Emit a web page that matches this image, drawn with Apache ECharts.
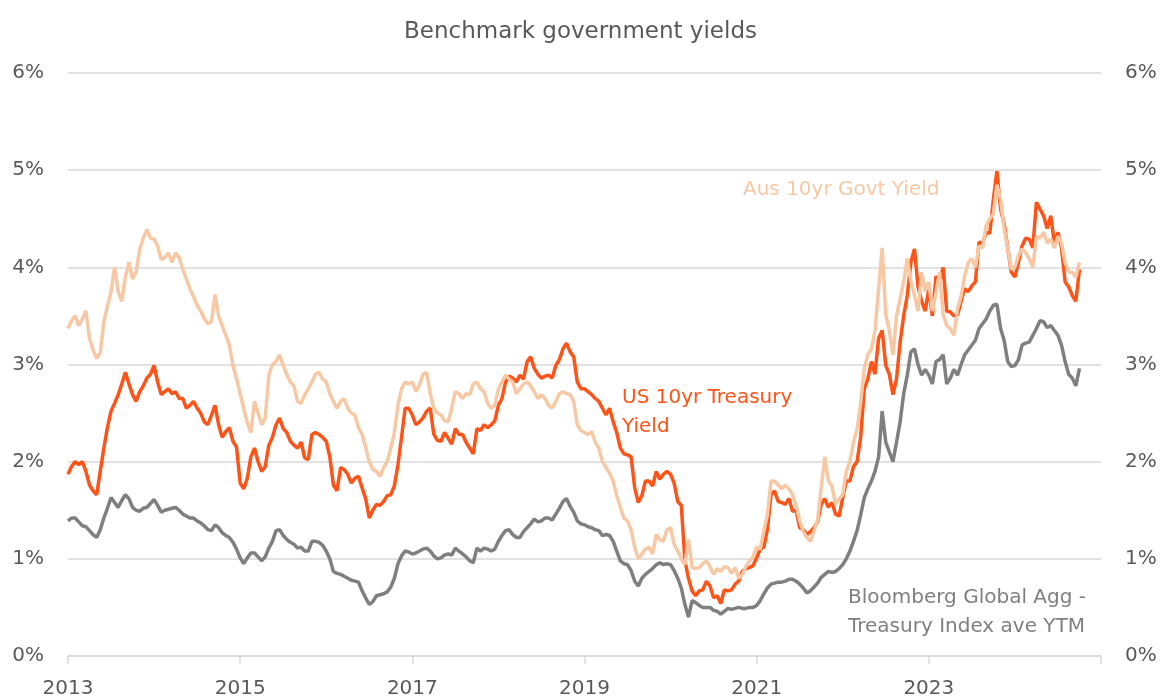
<!DOCTYPE html>
<html>
<head>
<meta charset="utf-8">
<script src="https://cdn.jsdelivr.net/npm/echarts@6/dist/echarts.min.js"></script>
<style>
html,body{margin:0;padding:0;background:#fff;}
#chart{width:1161px;height:699px;}
</style>
</head>
<body>
<div id="chart"></div>
<script>
// Observation dates: 1st and 16th of each month, Jan 2013 .. 1 Oct 2024
const dates = [];
for (let y = 2013; y <= 2024; y++) {
  for (let m = 1; m <= 12; m++) {
    const mm = String(m).padStart(2, '0');
    dates.push(y + '-' + mm + '-01');
    if (y === 2024 && m === 10) break;
    dates.push(y + '-' + mm + '-16');
  }
  if (y === 2024) break;
}
const xTicks = [2013, 2015, 2017, 2019, 2021, 2023, 2025];

// US 10yr Treasury yield (%)
const us10y = [
  1.87,1.95, 2.00,1.97, 2.00,1.90, 1.76,1.70, 1.66,1.90, 2.14,2.35, 2.52,2.60, 2.69,2.80, 2.92,2.80, 2.69,2.62, 2.72,2.78, 2.86,2.90,
  2.99,2.82, 2.69,2.72, 2.75,2.70, 2.72,2.65, 2.65,2.55, 2.58,2.62, 2.55,2.50, 2.41,2.38, 2.48,2.58, 2.38,2.25, 2.31,2.35, 2.21,2.15,
  1.78,1.72, 1.83,2.05, 2.14,2.00, 1.90,1.95, 2.17,2.25, 2.38,2.45, 2.34,2.30, 2.21,2.17, 2.14,2.20, 2.04,2.02, 2.28,2.30, 2.28,2.25,
  2.21,2.05, 1.76,1.70, 1.94,1.92, 1.87,1.78, 1.83,1.85, 1.73,1.62, 1.42,1.50, 1.56,1.55, 1.59,1.65, 1.66,1.75, 1.97,2.25, 2.55,2.55,
  2.48,2.38, 2.41,2.45, 2.52,2.55, 2.28,2.22, 2.21,2.30, 2.24,2.18, 2.34,2.28, 2.28,2.20, 2.14,2.08, 2.34,2.32, 2.38,2.35, 2.38,2.42,
  2.58,2.65, 2.82,2.88, 2.86,2.82, 2.89,2.85, 3.03,3.08, 2.96,2.90, 2.86,2.88, 2.89,2.86, 2.99,3.05, 3.16,3.22, 3.13,3.08, 2.82,2.75,
  2.75,2.72, 2.69,2.65, 2.62,2.55, 2.48,2.55, 2.41,2.30, 2.14,2.08, 2.07,2.05, 1.73,1.58, 1.65,1.80, 1.80,1.75, 1.90,1.82, 1.87,1.90,
  1.87,1.78, 1.59,1.55, 0.98,0.80, 0.67,0.62, 0.67,0.68, 0.77,0.72, 0.60,0.62, 0.54,0.68, 0.67,0.68, 0.74,0.77, 0.87,0.90, 0.91,0.93,
  1.01,1.10, 1.12,1.30, 1.66,1.70, 1.59,1.58, 1.56,1.62, 1.49,1.50, 1.32,1.30, 1.25,1.28, 1.32,1.38, 1.56,1.62, 1.53,1.58, 1.46,1.44,
  1.63,1.80, 1.80,1.95, 2.00,2.25, 2.75,2.85, 3.03,2.90, 3.27,3.35, 2.99,2.90, 2.69,2.85, 3.23,3.50, 3.71,4.05, 4.19,3.80, 3.65,3.55,
  3.78,3.50, 3.91,3.85, 4.00,3.55, 3.54,3.50, 3.51,3.65, 3.78,3.75, 3.81,3.85, 4.26,4.25, 4.36,4.35, 4.70,4.99, 4.60,4.45, 4.20,3.95,
  3.90,4.05, 4.22,4.30, 4.29,4.20, 4.67,4.60, 4.53,4.40, 4.53,4.25, 4.36,4.20, 3.85,3.80, 3.71,3.65, 3.98
];
// Aus 10yr Govt yield (%)
const aus10y = [
  3.37,3.45, 3.50,3.40, 3.47,3.55, 3.27,3.15, 3.06,3.12, 3.44,3.60, 3.75,4.00, 3.75,3.65, 3.90,4.05, 3.88,3.95, 4.19,4.30, 4.39,4.30,
  4.29,4.22, 4.08,4.10, 4.15,4.05, 4.15,4.10, 3.98,3.88, 3.78,3.70, 3.61,3.55, 3.47,3.42, 3.44,3.72, 3.50,3.40, 3.30,3.20, 2.99,2.85,
  2.70,2.55, 2.40,2.30, 2.62,2.50, 2.38,2.45, 2.89,3.00, 3.03,3.10, 2.99,2.90, 2.82,2.78, 2.62,2.60, 2.69,2.75, 2.82,2.90, 2.92,2.85,
  2.82,2.70, 2.62,2.55, 2.62,2.65, 2.55,2.50, 2.48,2.35, 2.28,2.15, 2.00,1.92, 1.90,1.85, 1.94,2.00, 2.14,2.30, 2.58,2.75, 2.82,2.80,
  2.82,2.72, 2.79,2.90, 2.92,2.70, 2.55,2.50, 2.48,2.42, 2.41,2.55, 2.72,2.70, 2.65,2.70, 2.69,2.80, 2.82,2.75, 2.72,2.60, 2.55,2.58,
  2.75,2.82, 2.89,2.85, 2.82,2.70, 2.75,2.80, 2.82,2.78, 2.72,2.65, 2.69,2.65, 2.58,2.55, 2.62,2.70, 2.72,2.70, 2.69,2.62, 2.38,2.32,
  2.30,2.28, 2.31,2.20, 2.14,2.00, 1.94,1.88, 1.80,1.65, 1.53,1.42, 1.39,1.30, 1.12,1.00, 1.05,1.10, 1.12,1.05, 1.25,1.20, 1.18,1.30,
  1.32,1.15, 1.08,1.00, 0.94,1.20, 0.91,0.90, 0.91,0.95, 0.98,0.92, 0.84,0.90, 0.87,0.92, 0.91,0.85, 0.91,0.80, 0.84,0.92, 0.98,1.02,
  1.12,1.10, 1.29,1.45, 1.80,1.80, 1.76,1.72, 1.76,1.72, 1.66,1.55, 1.39,1.28, 1.22,1.18, 1.29,1.40, 1.73,2.05, 1.80,1.75, 1.56,1.62,
  1.66,1.90, 2.00,2.20, 2.34,2.60, 2.96,3.10, 3.16,3.35, 3.78,4.20, 3.51,3.35, 3.10,3.50, 3.68,3.85, 4.09,3.85, 3.71,3.55, 3.95,3.75,
  3.85,3.55, 3.74,3.95, 3.51,3.40, 3.37,3.30, 3.57,3.70, 3.91,4.05, 4.09,4.00, 4.22,4.20, 4.43,4.50, 4.55,4.85, 4.70,4.40, 4.20,3.98,
  4.00,4.12, 4.19,4.15, 4.09,4.00, 4.32,4.30, 4.36,4.25, 4.29,4.20, 4.32,4.25, 4.05,3.95, 3.95,3.90, 4.05
];
// Bloomberg Global Agg - Treasury Index average YTM (%)
const globalAgg = [
  1.39,1.42, 1.42,1.38, 1.34,1.33, 1.29,1.25, 1.22,1.30, 1.42,1.52, 1.63,1.58, 1.53,1.60, 1.66,1.62, 1.53,1.50, 1.49,1.52, 1.53,1.57,
  1.61,1.55, 1.48,1.50, 1.51,1.52, 1.53,1.50, 1.46,1.44, 1.42,1.42, 1.39,1.37, 1.34,1.30, 1.29,1.35, 1.32,1.27, 1.24,1.22, 1.17,1.10,
  1.01,0.95, 1.01,1.06, 1.06,1.02, 0.98,1.02, 1.11,1.18, 1.29,1.30, 1.24,1.20, 1.17,1.15, 1.11,1.12, 1.08,1.08, 1.18,1.18, 1.17,1.14,
  1.08,1.00, 0.87,0.85, 0.84,0.82, 0.80,0.78, 0.77,0.76, 0.67,0.60, 0.53,0.56, 0.62,0.63, 0.64,0.66, 0.71,0.80, 0.95,1.03, 1.08,1.07,
  1.05,1.06, 1.08,1.10, 1.11,1.08, 1.03,1.00, 1.01,1.04, 1.05,1.04, 1.11,1.08, 1.05,1.02, 0.98,0.96, 1.11,1.08, 1.11,1.10, 1.08,1.10,
  1.18,1.24, 1.29,1.30, 1.25,1.22, 1.22,1.28, 1.32,1.36, 1.41,1.38, 1.39,1.42, 1.42,1.40, 1.46,1.52, 1.59,1.62, 1.54,1.48, 1.39,1.36,
  1.35,1.33, 1.32,1.30, 1.29,1.24, 1.25,1.24, 1.18,1.08, 0.98,0.95, 0.94,0.88, 0.77,0.72, 0.80,0.84, 0.87,0.90, 0.94,0.96, 0.94,0.95,
  0.94,0.88, 0.80,0.70, 0.53,0.40, 0.57,0.55, 0.52,0.50, 0.50,0.50, 0.47,0.46, 0.43,0.46, 0.49,0.48, 0.49,0.50, 0.49,0.49, 0.50,0.50,
  0.52,0.57, 0.64,0.70, 0.74,0.75, 0.76,0.76, 0.77,0.79, 0.79,0.77, 0.74,0.70, 0.65,0.67, 0.71,0.75, 0.81,0.84, 0.87,0.86, 0.87,0.90,
  0.94,1.00, 1.08,1.18, 1.29,1.45, 1.63,1.72, 1.80,1.90, 2.05,2.52, 2.20,2.10, 2.00,2.20, 2.41,2.70, 2.89,3.13, 3.16,3.00, 2.89,2.95,
  2.89,2.80, 3.03,3.05, 3.10,2.80, 2.86,2.95, 2.89,3.00, 3.10,3.15, 3.20,3.25, 3.37,3.42, 3.47,3.55, 3.61,3.62, 3.37,3.25, 3.03,2.98,
  2.99,3.05, 3.20,3.22, 3.23,3.30, 3.37,3.45, 3.44,3.38, 3.40,3.35, 3.30,3.20, 3.03,2.90, 2.86,2.78, 2.96
];

function toYear(s) {
  const p = s.split('-');
  return +p[0] + (+p[1] - 1) / 12 + (+p[2] - 1) / 365;
}
function pairs(vals) {
  return vals.map((v, i) => [toYear(dates[i]), v]);
}

const FONT = 'DejaVu Sans';
const TXT = '#595959';
const GRID = '#d9d9d9';
const C_US = '#ff5317', C_AUS = '#f8c8a4', C_AGG = '#7f7f7f';

const chart = echarts.init(document.getElementById('chart'), null, {renderer: 'canvas'});
chart.setOption({
  animation: false,
  backgroundColor: '#ffffff',
  textStyle: {fontFamily: FONT},
  title: {
    text: 'Benchmark government yields',
    left: 'center', top: 16,
    textStyle: {fontFamily: FONT, fontSize: 23, fontWeight: 'normal', color: TXT}
  },
  grid: {left: 68, right: 60, top: 73, bottom: 40, containLabel: false},
  xAxis: {
    type: 'value', min: xTicks[0], max: xTicks[xTicks.length - 1], interval: 2,
    axisLine: {show: true, lineStyle: {color: GRID, width: 1.5}},
    axisTick: {show: true, length: 8, lineStyle: {color: GRID, width: 1.5}},
    splitLine: {show: false},
    axisLabel: {
      margin: 23, fontSize: 20, color: TXT, fontFamily: FONT,
      formatter: v => (v === xTicks[xTicks.length - 1] ? '' : String(Math.round(v)))
    }
  },
  yAxis: [
    {
      type: 'value', min: 0, max: 6, interval: 1, position: 'left',
      axisLine: {show: false}, axisTick: {show: false},
      splitLine: {show: true, lineStyle: {color: GRID, width: 1.5}},
      axisLabel: {margin: 24, fontSize: 20, color: TXT, fontFamily: FONT, formatter: '{value}%'}
    },
    {
      type: 'value', min: 0, max: 6, interval: 1, position: 'right',
      axisLine: {show: false}, axisTick: {show: false},
      splitLine: {show: false},
      axisLabel: {margin: 24, fontSize: 20, color: TXT, fontFamily: FONT, formatter: '{value}%'}
    }
  ],
  series: [
    {name: 'Bloomberg Global Agg - Treasury Index ave YTM', type: 'line', data: pairs(globalAgg),
     showSymbol: false, lineStyle: {color: C_AGG, width: 3.5}, itemStyle: {color: C_AGG}, z: 2},
    {name: 'US 10yr Treasury Yield', type: 'line', data: pairs(us10y),
     showSymbol: false, lineStyle: {color: C_US, width: 3.5}, itemStyle: {color: C_US}, z: 3},
    {name: 'Aus 10yr Govt Yield', type: 'line', data: pairs(aus10y),
     showSymbol: false, lineStyle: {color: C_AUS, width: 3.5}, itemStyle: {color: C_AUS}, z: 4}
  ],
  graphic: [
    {type: 'text', left: 743, top: 180, style: {text: 'Aus 10yr Govt Yield', fill: C_AUS, font: '20px "DejaVu Sans"'}},
    {type: 'text', left: 622, top: 383, style: {text: 'US 10yr Treasury\nYield', fill: C_US, font: '20px "DejaVu Sans"', lineHeight: 29}},
    {type: 'text', left: 848, top: 583, style: {text: 'Bloomberg Global Agg -\nTreasury Index ave YTM', fill: C_AGG, font: '20px "DejaVu Sans"', lineHeight: 29}}
  ]
});
</script>
</body>
</html>
